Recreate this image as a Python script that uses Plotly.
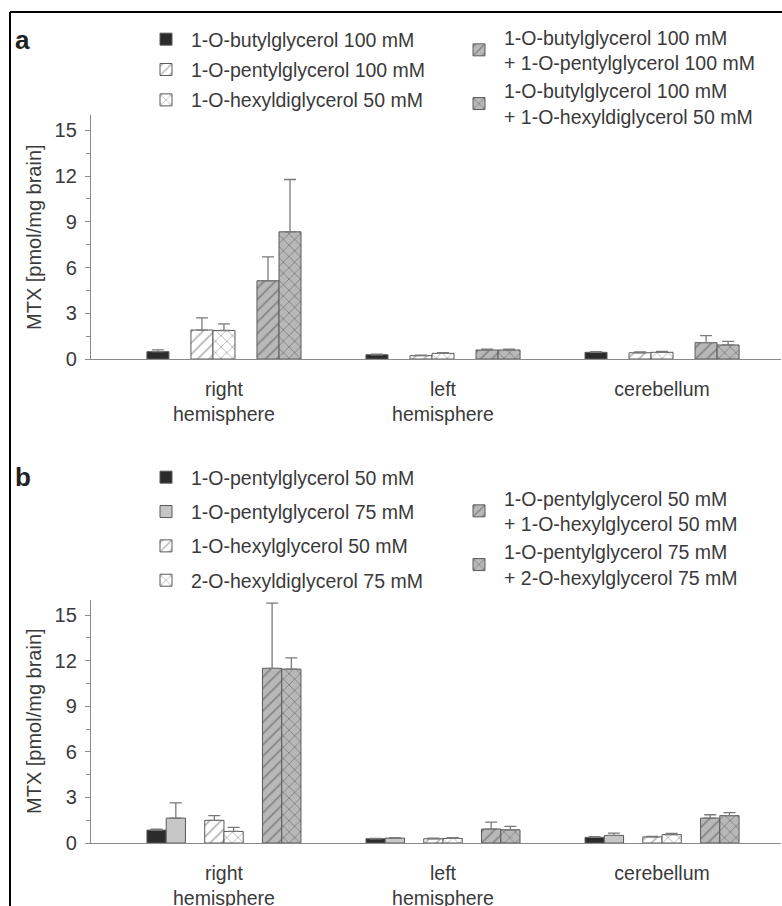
import plotly.graph_objects as go

# ---------------- data ----------------
categories = ["right<br>hemisphere", "left<br>hemisphere", "cerebellum"]

# panel a
a_names = [
    "1-O-butylglycerol 100 mM",
    "1-O-pentylglycerol 100 mM",
    "1-O-hexyldiglycerol 50 mM",
    "1-O-butylglycerol 100 mM<br>+ 1-O-pentylglycerol 100 mM",
    "1-O-butylglycerol 100 mM<br>+ 1-O-hexyldiglycerol 50 mM",
]
a_butyl = [0.48, 0.28, 0.44]
a_butyl_err = [0.12, 0.03, 0.05]
a_pentyl = [1.90, 0.22, 0.41]
a_pentyl_err = [0.80, 0.04, 0.05]
a_hexyldi = [1.87, 0.37, 0.44]
a_hexyldi_err = [0.43, 0.05, 0.06]
a_butyl_pentyl = [5.13, 0.59, 1.07]
a_butyl_pentyl_err = [1.57, 0.06, 0.46]
a_butyl_hexyldi = [8.34, 0.59, 0.92]
a_butyl_hexyldi_err = [3.43, 0.05, 0.24]

# panel b
b_names = [
    "1-O-pentylglycerol 50 mM",
    "1-O-pentylglycerol 75 mM",
    "1-O-hexylglycerol 50 mM",
    "2-O-hexyldiglycerol 75 mM",
    "1-O-pentylglycerol 50 mM<br>+ 1-O-hexylglycerol 50 mM",
    "1-O-pentylglycerol 75 mM<br>+ 2-O-hexylglycerol 75 mM",
]
b_pentyl50 = [0.85, 0.28, 0.37]
b_pentyl50_err = [0.07, 0.03, 0.04]
b_pentyl75 = [1.64, 0.32, 0.50]
b_pentyl75_err = [1.00, 0.03, 0.15]
b_hexyl50 = [1.49, 0.28, 0.40]
b_hexyl50_err = [0.31, 0.04, 0.04]
b_hexyldi75 = [0.76, 0.30, 0.55]
b_hexyldi75_err = [0.27, 0.05, 0.08]
b_combo1 = [11.50, 0.92, 1.64]
b_combo1_err = [4.30, 0.46, 0.22]
b_combo2 = [11.45, 0.87, 1.80]
b_combo2_err = [0.74, 0.22, 0.20]

y_ticks = [0, 3, 6, 9, 12, 15]
y_minor = [1.5, 4.5, 7.5, 10.5, 13.5]
y_title = "MTX [pmol/mg brain]"

# ---------------- styles ----------------
W, H = 782, 906
FONT = "Liberation Sans, Arial, sans-serif"
TXT = "#3a3a3a"
AX = "#8a8a8a"
OUT = "#5a5a5a"
LFS = 19.5

STY = {
    "black": dict(bg="#2b2b2b", shape="", fg="#2b2b2b"),
    "lgray": dict(bg="#c6c6c6", shape="", fg="#c6c6c6"),
    "hatch": dict(bg="#ffffff", shape="/", fg="#6a6a6a"),
    "cross": dict(bg="#ffffff", shape="x", fg="#6a6a6a"),
    "ghatch": dict(bg="#b8b8b8", shape="/", fg="#505050"),
    "gcross": dict(bg="#b8b8b8", shape="x", fg="#505050"),
}

def px_x(p):
    return p / W

def px_y(p):
    return 1 - p / H

fig = go.Figure()

def add_bar(name, vals, errs, style, slot, w, xa, ya, legend, group):
    s = STY[style]
    fig.add_trace(go.Bar(
        x=categories, y=vals, name=name,
        width=w, offset=slot * w - w / 2,
        xaxis=xa, yaxis=ya, legend=legend, legendgroup=group,
        marker=dict(
            color=s["bg"],
            line=dict(color=OUT, width=1),
            pattern=dict(shape=s["shape"], fgcolor=s["fg"], bgcolor=s["bg"],
                         size=8, solidity=0.22, fillmode="overlay"),
        ),
        error_y=dict(type="data", symmetric=False, array=errs,
                     arrayminus=[0] * len(errs), color="#7a7a7a",
                     thickness=1.3, width=6),
        hoverinfo="skip",
    ))

# panel a: 7 slots, group centre at slot 0
wa = 0.1005
a_series = [
    (a_names[0], a_butyl, a_butyl_err, "black", -3, "legend"),
    (a_names[1], a_pentyl, a_pentyl_err, "hatch", -1, "legend"),
    (a_names[2], a_hexyldi, a_hexyldi_err, "cross", 0, "legend"),
    (a_names[3], a_butyl_pentyl, a_butyl_pentyl_err, "ghatch", 2, "legend2"),
    (a_names[4], a_butyl_hexyldi, a_butyl_hexyldi_err, "gcross", 3, "legend2"),
]
for i, (n, v, e, st, sl, lg) in enumerate(a_series):
    add_bar(n, v, e, st, sl, wa, "x", "y", lg, "a%d" % i)

# panel b: 8 slots
wb = 0.0879
b_series = [
    (b_names[0], b_pentyl50, b_pentyl50_err, "black", -3.5, "legend3"),
    (b_names[1], b_pentyl75, b_pentyl75_err, "lgray", -2.5, "legend3"),
    (b_names[2], b_hexyl50, b_hexyl50_err, "hatch", -0.5, "legend3"),
    (b_names[3], b_hexyldi75, b_hexyldi75_err, "cross", 0.5, "legend3"),
    (b_names[4], b_combo1, b_combo1_err, "ghatch", 2.5, "legend4"),
    (b_names[5], b_combo2, b_combo2_err, "gcross", 3.5, "legend4"),
]
for i, (n, v, e, st, sl, lg) in enumerate(b_series):
    add_bar(n, v, e, st, sl, wb, "x2", "y2", lg, "b%d" % i)

xr = [-0.607, 2.543]
xdom = [px_x(91), px_x(781)]

def xaxis(anchor):
    return dict(domain=xdom, anchor=anchor, type="category", range=xr,
                showline=True, linecolor=AX, linewidth=1.3, ticks="",
                tickfont=dict(size=19.5, color=TXT, family=FONT),
                ticklabelstandoff=12, showgrid=False, zeroline=False,
                automargin=False, fixedrange=True)

def yaxis(dom, anchor):
    return dict(domain=dom, anchor=anchor, range=[0, 16], tickvals=y_ticks,
                ticks="outside", ticklen=5, tickcolor=AX, tickwidth=1.2,
                showline=True, linecolor=AX, linewidth=1.3,
                minor=dict(tickvals=y_minor, ticks="outside", ticklen=4,
                           tickcolor=AX, tickwidth=1.2),
                tickfont=dict(size=20, color=TXT, family=FONT),
                ticklabelstandoff=4,
                showgrid=False, zeroline=False, automargin=False,
                fixedrange=True)

def legend(xp, yp, gap):
    return dict(x=px_x(xp), y=px_y(yp), xanchor="left", yanchor="top",
                bgcolor="rgba(0,0,0,0)", borderwidth=0, itemwidth=40,
                font=dict(size=LFS, color=TXT, family=FONT),
                traceorder="grouped", tracegroupgap=gap, itemclick=False,
                itemdoubleclick=False)

fig.update_layout(
    width=W, height=H,
    margin=dict(l=0, r=0, t=0, b=0),
    paper_bgcolor="white", plot_bgcolor="white",
    barmode="overlay",
    font=dict(family=FONT, size=19, color=TXT),
    xaxis=xaxis("y"),
    yaxis=yaxis([px_y(359), px_y(115)], "x"),
    xaxis2=xaxis("y2"),
    yaxis2=yaxis([px_y(843), px_y(600)], "x2"),
    legend=legend(141, 20, 2),
    legend2=legend(454, 18, 0),
    legend3=legend(141, 458, 6),
    legend4=legend(454, 479, 0),
    showlegend=True,
)

# y-axis titles and panel letters
for yc in (237, 721):
    fig.add_annotation(text=y_title, xref="paper", yref="paper",
                       x=px_x(34), y=px_y(yc), textangle=-90, showarrow=False,
                       font=dict(size=20, color=TXT, family=FONT),
                       xanchor="center", yanchor="middle")
for letter, yc in (("a", 40), ("b", 477)):
    fig.add_annotation(text="<b>%s</b>" % letter, xref="paper", yref="paper",
                       x=px_x(13), y=px_y(yc), showarrow=False,
                       font=dict(size=26, color="#222", family=FONT),
                       xanchor="left", yanchor="middle")

# frame lines (top and left)
fig.add_shape(type="line", xref="paper", yref="paper",
              x0=px_x(10), x1=1, y0=px_y(12), y1=px_y(12),
              line=dict(color="black", width=2))
fig.add_shape(type="line", xref="paper", yref="paper",
              x0=px_x(10), x1=px_x(10), y0=px_y(12), y1=0,
              line=dict(color="black", width=2))

fig.write_html(
    "out.html",
    config={"displayModeBar": False},
    post_script="document.body.style.margin='0px';document.body.style.padding='0px';document.body.style.overflow='hidden';",
)
